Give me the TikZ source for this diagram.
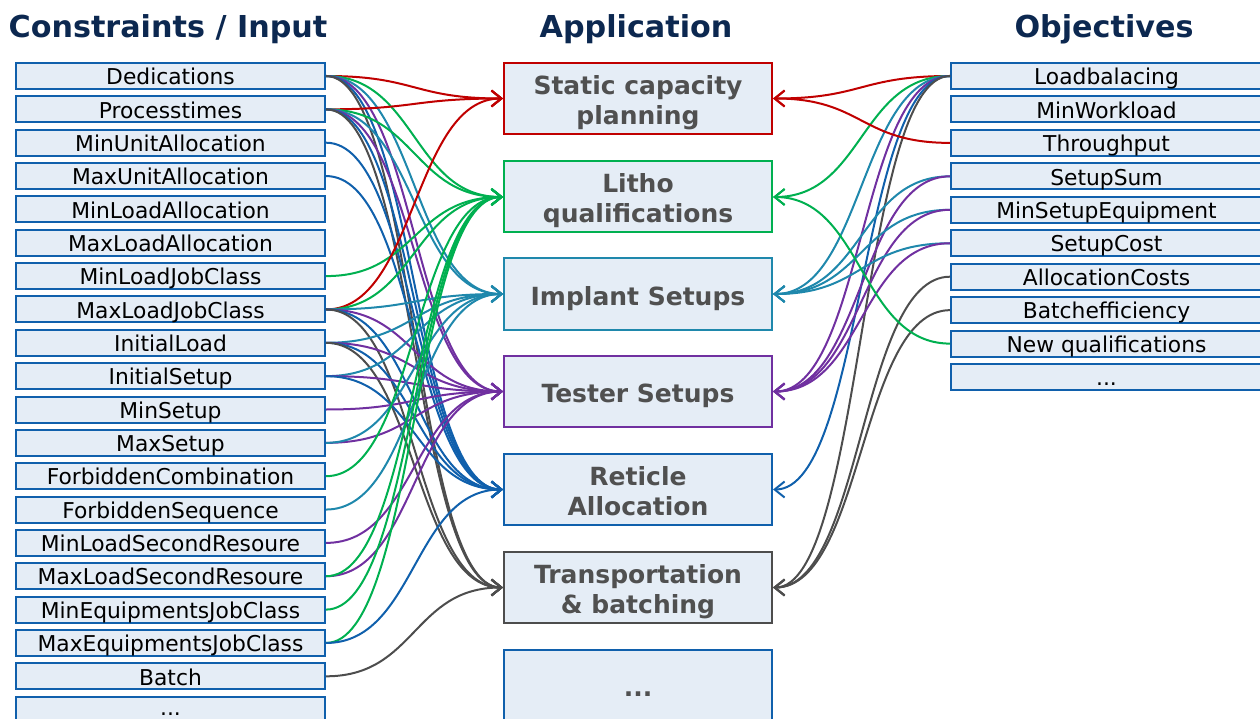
\documentclass[tikz,border=0pt]{standalone}
\usepackage{fontspec}
\setmainfont{DejaVu Sans}
\usetikzlibrary{arrows.meta}
\definecolor{cred}{RGB}{192,0,0}
\definecolor{cgreen}{RGB}{0,176,80}
\definecolor{cteal}{RGB}{31,136,172}
\definecolor{cpurple}{RGB}{112,48,160}
\definecolor{cblue}{RGB}{16,96,172}
\definecolor{cgray}{RGB}{77,77,77}
\definecolor{boxfill}{RGB}{229,237,246}
\definecolor{titlecol}{RGB}{12,40,80}
\definecolor{textgray}{RGB}{80,80,80}
\newcommand\mydots{...}
\newcommand\updots{\raisebox{3pt}{...}}
\newcommand\apptext[1]{\raisebox{-5pt}[\height][\depth]{\begin{tabular}{@{}c@{}}#1\end{tabular}}}
\begin{document}
\begin{tikzpicture}[x=1pt,y=-1pt,
  inbox/.style={draw=cblue, fill=boxfill, line width=2pt, minimum width=309pt, minimum height=26pt, inner sep=0pt, text height=17.4pt, text depth=0pt, font=\fontsize{21.8}{24}\selectfont, text=black},
  outbox/.style={inbox, minimum width=311pt},
  appbox/.style={fill=boxfill, line width=2pt, minimum width=268pt, minimum height=71pt, inner sep=0pt, font=\fontsize{25}{30}\selectfont\bfseries, text=textgray},
  title/.style={anchor=base, font=\fontsize{30.2}{34}\selectfont\bfseries, text=titlecol},
  link/.style={line width=2pt, -{Straight Barb[length=10pt,width=16pt]}, out=0, in=180, distance=90pt},
  rlink/.style={line width=2pt, -{Straight Barb[length=10pt,width=16pt]}, out=180, in=0, distance=90pt}]
\useasboundingbox (0,0) rectangle (1260,719);
% titles
\node[title] (t1) at (168,38) {Constraints / Input};
\node[title] (t2) at (636,38) {Application};
\node[title] (t3) at (1104,38) {Objectives};
% left boxes
\foreach \i/\t in {1/Dedications,2/Processtimes,3/MinUnitAllocation,4/MaxUnitAllocation,5/MinLoadAllocation,6/MaxLoadAllocation,7/MinLoadJobClass,8/MaxLoadJobClass,9/InitialLoad,10/InitialSetup,11/MinSetup,12/MaxSetup,13/ForbiddenCombination,14/ForbiddenSequence,15/MinLoadSecondResoure,16/MaxLoadSecondResoure,17/MinEquipmentsJobClass,18/MaxEquipmentsJobClass,19/Batch,20/\updots}
  \node[inbox] (L\i) at (170.5,{76+(\i-1)*33.35}) {\t};
% right boxes
\foreach \i/\t in {1/Loadbalacing,2/MinWorkload,3/Throughput,4/SetupSum,5/MinSetupEquipment,6/SetupCost,7/AllocationCosts,8/Batchefficiency,9/New qualifications,10/\mydots}
  \node[outbox] (R\i) at (1106.5,{76+(\i-1)*33.45}) {\t};
% application boxes
\node[appbox, draw=cred] (C1) at (638,98.5) {\apptext{Static capacity\\planning}};
\node[appbox, draw=cgreen] (C2) at (638,197) {\apptext{Litho\\qualifications}};
\node[appbox, draw=cteal] (C3) at (638,294) {\apptext{Implant Setups}};
\node[appbox, draw=cpurple] (C4) at (638,391.5) {\apptext{Tester Setups}};
\node[appbox, draw=cblue] (C5) at (638,489.5) {\apptext{Reticle\\Allocation}};
\node[appbox, draw=cgray] (C6) at (638,587.5) {\apptext{Transportation\\\& batching}};
\node[appbox, draw=cblue] (C7) at (638,685) {\apptext{\mydots}};
% left connectors
\foreach \a/\b/\c in {1/1/cred,1/2/cgreen,1/3/cteal,1/4/cpurple,1/5/cblue,1/6/cgray,
  2/1/cred,2/2/cgreen,2/3/cteal,2/4/cpurple,2/5/cblue,2/6/cgray,
  3/5/cblue,4/5/cblue,7/2/cgreen,
  8/1/cred,8/2/cgreen,8/3/cteal,8/4/cpurple,8/5/cblue,8/6/cgray,
  9/3/cteal,9/4/cpurple,9/5/cblue,9/6/cgray,
  10/3/cteal,10/4/cpurple,10/5/cblue,
  11/4/cpurple,12/4/cpurple,12/3/cteal,13/2/cgreen,14/3/cteal,15/4/cpurple,
  16/4/cpurple,16/2/cgreen,17/2/cgreen,18/2/cgreen,18/5/cblue,19/6/cgray}
  \draw[link, draw=\c] (L\a.east) to (C\b.west);
% right connectors
\foreach \a/\b/\c in {1/1/cred,1/2/cgreen,1/3/cteal,1/4/cpurple,1/5/cblue,1/6/cgray,
  3/1/cred,4/3/cteal,4/4/cpurple,5/3/cteal,5/4/cpurple,6/3/cteal,6/4/cpurple,
  7/6/cgray,8/6/cgray,9/2/cgreen}
  \draw[rlink, draw=\c] (R\a.west) to (C\b.east);
\end{tikzpicture}
\end{document}
